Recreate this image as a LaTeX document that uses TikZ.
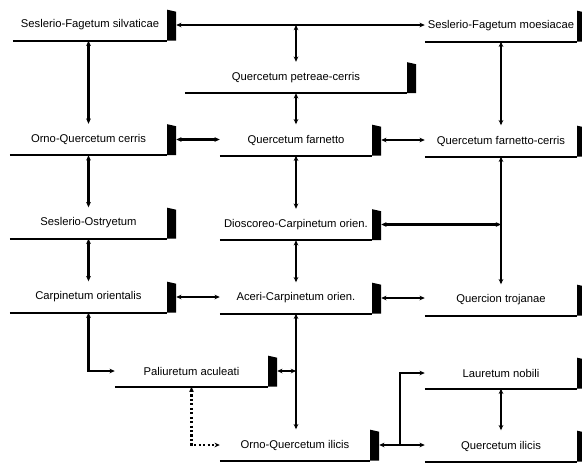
\documentclass[tikz,border=0pt]{standalone}
\usepackage{fontspec}
\setmainfont{Liberation Sans}
\usetikzlibrary{arrows.meta,calc}

\tikzset{
	assoc/.style={minimum width=#1, minimum height=0.93cm, inner sep=0pt, font=\fontsize{9.6}{11}\selectfont},
	tip/.tip={Stealth[length=4.5pt,width=4pt]},
	link/.style={tip-tip, line width=1.8pt},
	base/.style={line width=1.8pt},
}

\begin{document}
\begin{tikzpicture}[x=0.03cm, y=-0.03cm]
		\useasboundingbox (0,0) rectangle (582,462);
		% left column
		\node[assoc=4.62cm] (fs) at (90,25) {Seslerio-Fagetum silvaticae};
		\node[assoc=4.71cm] (oqc) at (88.5,139.5) {Orno-Quercetum cerris};
		\node[assoc=4.71cm] (so) at (88.5,223) {Seslerio-Ostryetum};
		\node[assoc=4.71cm] (co) at (88.5,297) {Carpinetum orientalis};
		\node[assoc=4.59cm] (pa) at (191.5,371) {Paliuretum aculeati};
		% middle column
		\node[assoc=6.66cm] (qpc) at (296,77.5) {Quercetum petreae-cerris};
		\node[assoc=4.56cm] (qf) at (296,140) {Quercetum farnetto};
		\node[assoc=4.56cm] (dc) at (296,224.5) {Dioscoreo-Carpinetum orien.};
		\node[assoc=4.56cm] (ac) at (296,298) {Aceri-Carpinetum orien.};
		\node[assoc=4.5cm] (oqi) at (295,445) {Orno-Quercetum ilicis};
		% right column
		\node[assoc=4.56cm] (fm) at (501,26) {Seslerio-Fagetum moesiacae};
		\node[assoc=4.56cm] (qfc) at (501,141) {Quercetum farnetto-cerris};
		\node[assoc=4.56cm] (qt) at (501,300) {Quercion trojanae};
		\node[assoc=4.56cm] (ln) at (501,373) {Lauretum nobili};
		\node[assoc=4.56cm] (qi) at (501,446) {Quercetum ilicis};

		% base line and black tab of every unit
		\foreach \n in {fs,oqc,so,co,pa,qpc,qf,dc,ac,oqi,fm,qfc,qt,ln,qi} {
			\draw[base] (\n.south west) -- (\n.south east);
			\fill (\n.south east) -- ++(9,0) -- ++(0,-29) -- ++(-9,-2) -- cycle;
			\coordinate (\n-tab) at ([xshift=0.27cm]\n.east);
		}

		\path[every edge/.append style={link}]
			(fs-tab) edge (fs-tab -| fm.west) % top row
			(qpc.north |- fs-tab) edge (qpc.north)
			(oqc.north |- fs.south) edge (oqc.north)
			(fm.south) edge (qfc.north)
			(qpc.south -| qf.north) edge (qf.north)
			(oqc-tab) edge (oqc-tab -| qf.west) % cerris row
			(qf-tab) edge (qf-tab -| qfc.west)
			(oqc.south) edge (so.north)
			(qf.south) edge (dc.north)
			(qfc.south) edge (qt.north)
			(dc-tab) edge (dc-tab -| qfc.south)
			(so.south) edge (co.north)
			(dc.south) edge (ac.north)
			(co-tab) edge (co-tab -| ac.west) % orientalis row
			(ac-tab) edge (ac-tab -| qt.west)
			(co.south) edge[to path={|- (\tikztotarget)}] (pa.west)
			(ac.south) edge (ac.south |- oqi.north)
			(pa-tab) edge (pa-tab -| ac.south)
			(pa.south) edge[dotted, to path={|- (\tikztotarget)}] (oqi.west)
			(oqi-tab) edge (oqi-tab -| qi.west) % ilicis row
			(ln.south) edge (qi.north)
			;
		\coordinate (j) at ($(oqi-tab)!0.46!(oqi-tab -| qi.west)$);
		\draw[link, -tip] (j) |- (ln.west);
		\end{tikzpicture}
\end{document}
